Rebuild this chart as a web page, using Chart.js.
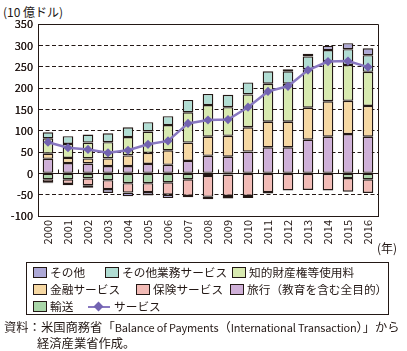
<!DOCTYPE html>
<html><head><meta charset="utf-8">
<script src="https://cdn.jsdelivr.net/npm/chart.js@4/dist/chart.umd.min.js"></script>
<style>
html,body{margin:0;padding:0;background:#fff;}
body{width:407px;height:351px;position:relative;overflow:hidden;font-family:'Noto Sans CJK JP','Noto Sans',sans-serif;color:#231815;}
#wrap{position:absolute;left:0;top:-30px;width:407px;height:288px;z-index:2;}
#unit{position:absolute;left:3px;top:4px;font-size:12px;line-height:16px;white-space:nowrap;z-index:1;}
#yearLbl{position:absolute;left:377px;top:240px;font-size:12px;line-height:16px;white-space:nowrap;z-index:3;}
#legend{position:absolute;left:26px;top:262px;width:363px;height:53px;border:1px solid #231815;box-sizing:border-box;font-size:11.7px;z-index:3;}
.item{position:absolute;height:16px;line-height:16px;white-space:nowrap;}
.sw{display:inline-block;width:12px;height:9px;border:1px solid #231815;vertical-align:-1px;margin-right:3px;}
.ln{display:inline-block;width:22px;height:10px;position:relative;vertical-align:-1px;margin-right:4px;}
.ln i{position:absolute;left:0;top:4px;width:22px;height:2px;}
.ln b{position:absolute;left:7px;top:1px;width:7px;height:7px;transform:rotate(45deg);}
#src{position:absolute;left:4px;top:319px;font-size:12.3px;line-height:16px;white-space:nowrap;z-index:3;}
#src2{position:absolute;left:37px;top:335px;font-size:12.3px;line-height:16px;white-space:nowrap;z-index:3;}
.lat{font-size:11px;letter-spacing:-0.15px;}
</style></head>
<body>
<div id="unit">(10 億ドル)</div>
<div id="wrap"><canvas id="c" width="407" height="288"></canvas></div>
<div id="yearLbl">(年)</div>
<div id="legend"></div>
<div id="src">資料：米国商務省「<span class="lat">Balance of Payments</span>（<span class="lat">International Transaction</span>）」から</div>
<div id="src2">経済産業省作成。</div>
<script>
// ---- data (10億ドル) ----
const years = ['2000','2001','2002','2003','2004','2005','2006','2007','2008','2009','2010','2011','2012','2013','2014','2015','2016'];
const yTicks = [-100,-50,0,50,100,150,200,250,300,350];
const travel    = [34, 24, 23, 17, 17, 22, 20, 29, 41, 39, 51, 61, 61, 79, 86, 92, 86];
const finance   = [12, 12, 12, 18, 25, 26, 34, 43, 45, 49, 57, 60, 60, 75, 83, 78, 72];
const ipFees    = [36, 33, 37, 38, 43, 50, 59, 71, 74, 67, 77, 89, 89, 90, 94, 84, 80];
const otherBiz  = [14, 18, 19, 21, 23, 22, 21, 29, 26, 29, 28, 29, 29, 30, 26, 37, 39];
const transport = [-14,-14,-12,-16,-23,-23,-21,-14, -6, -3, -1,  0,  0,  0,  0,-11,-14];
const insurance = [-7, -11,-16,-21,-22,-21,-29,-39,-49,-50,-52,-44,-40,-39,-40,-32,-32];
const others    = [-2, -3, -6, -9, -9, -8, -8, -3, -6, -6, -5, -3,  5,  6, 10, 14, 16];
const services  = [73, 60, 56, 48, 54, 68, 76, 117, 125, 126, 155, 192, 204, 242, 262, 263, 249];

const INK = '#231815';
const FONT = "'Noto Sans CJK JP','Noto Sans',sans-serif";

const barDefs = [
  {label:'旅行（教育を含む全目的）', data:travel,    color:'#cfb0d8'},
  {label:'金融サービス',             data:finance,   color:'#f6d8a3'},
  {label:'知的財産権等使用料',       data:ipFees,    color:'#d8eab0'},
  {label:'その他業務サービス',       data:otherBiz,  color:'#b1ddd3'},
  {label:'輸送',                     data:transport, color:'#a9d6a8'},
  {label:'保険サービス',             data:insurance, color:'#f2bbb6'},
  {label:'その他',                   data:others,    color:'#ada8d6'}
];
const datasets = barDefs.map(d => ({
  type:'bar', label:d.label, data:d.data, backgroundColor:d.color,
  borderColor:INK, borderWidth:1.4, borderSkipped:false, stack:'bars', order:2,
  barPercentage:0.53, categoryPercentage:1
}));
datasets.push({
  type:'line', label:'サービス', data:services, stack:'line', order:1,
  borderColor:'#8878c0', borderWidth:2.5, tension:0, fill:false,
  pointStyle:'rectRot', pointRadius:4.6, pointBackgroundColor:'#7263b1', pointBorderColor:'#7263b1', pointBorderWidth:0,
  backgroundColor:'#7263b1'
});

const framePlugin = {
  id:'frame',
  beforeDatasetsDraw(chart){
    const {ctx, scales:{x,y}} = chart;
    ctx.save();
    ctx.strokeStyle = INK; ctx.lineWidth = 1;
    // small ticks on zero line at category boundaries
    const y0 = Math.round(y.getPixelForValue(0)) + 0.5;
    ctx.beginPath();
    for (let i = 1; i < years.length; i++){
      const xb = Math.round((x.getPixelForValue(i-1) + x.getPixelForValue(i)) / 2) + 0.5;
      ctx.moveTo(xb, y0); ctx.lineTo(xb, y0 - 4);
    }
    ctx.stroke();
    ctx.restore();
  },
  afterDraw(chart){
    const {ctx, chartArea:a, scales:{y}} = chart;
    ctx.save();
    ctx.strokeStyle = INK; ctx.lineWidth = 1;
    const t = Math.round(y.getPixelForValue(350)) + 0.5;
    const r = Math.round(a.right) + 0.5;
    ctx.beginPath();
    ctx.moveTo(a.left, t); ctx.lineTo(r, t); ctx.lineTo(r, a.bottom);
    ctx.stroke();
    ctx.restore();
    try { y.drawLabels(a); } catch(e) {}
  }
};

const chart = new Chart(document.getElementById('c'), {
  data:{labels:years, datasets},
  options:{
    responsive:false, animation:false, events:[],
    layout:{padding:{left:0, right:29, top:54, bottom:0}},
    plugins:{legend:{display:false}, tooltip:{enabled:false}},
    scales:{
      x:{
        stacked:true, offset:true,
        grid:{display:false, drawTicks:false},
        border:{display:true, color:INK, width:1},
        ticks:{minRotation:90, maxRotation:90, autoSkip:false, padding:4, color:INK, font:{family:FONT, size:11}},
        afterFit(s){ s.height = 42; }
      },
      y:{
        stacked:true, min:-100, max:350,
        afterBuildTicks(s){ s.ticks = yTicks.map(v => ({value:v})); },
        grid:{color:INK, lineWidth:1, drawTicks:false},
        border:{display:true, color:INK, width:1,
          dash:(c) => (c.tick && c.tick.value !== 0 && c.tick.value !== 350 && c.tick.value !== -100) ? [4,2.5] : []},
        ticks:{padding:5, autoSkip:false, color:INK, font:{family:FONT, size:11}},
        afterFit(s){ s.width = 38; }
      }
    }
  },
  plugins:[framePlugin]
});

// HTML legend built from the chart's datasets
const legendOrder = ['その他','その他業務サービス','知的財産権等使用料','金融サービス','保険サービス','旅行（教育を含む全目的）','輸送','サービス'];
const legendPos = [[0,6],[0,78],[0,205],[1,6],[1,109],[1,203],[2,6],[2,61]];
const lg = document.getElementById('legend');
legendOrder.forEach((name, i) => {
  const ds = chart.data.datasets.find(d => d.label === name);
  const el = document.createElement('div');
  el.className = 'item';
  el.style.top = (1 + legendPos[i][0]*17) + 'px';
  el.style.left = legendPos[i][1] + 'px';
  if (ds.type === 'line') {
    el.innerHTML = '<span class="ln"><i style="background:'+ds.borderColor+'"></i><b style="background:'+ds.pointBackgroundColor+'"></b></span>';
  } else {
    el.innerHTML = '<span class="sw" style="background:'+ds.backgroundColor+'"></span>';
  }
  el.appendChild(document.createTextNode(name));
  lg.appendChild(el);
});
</script>
</body></html>
